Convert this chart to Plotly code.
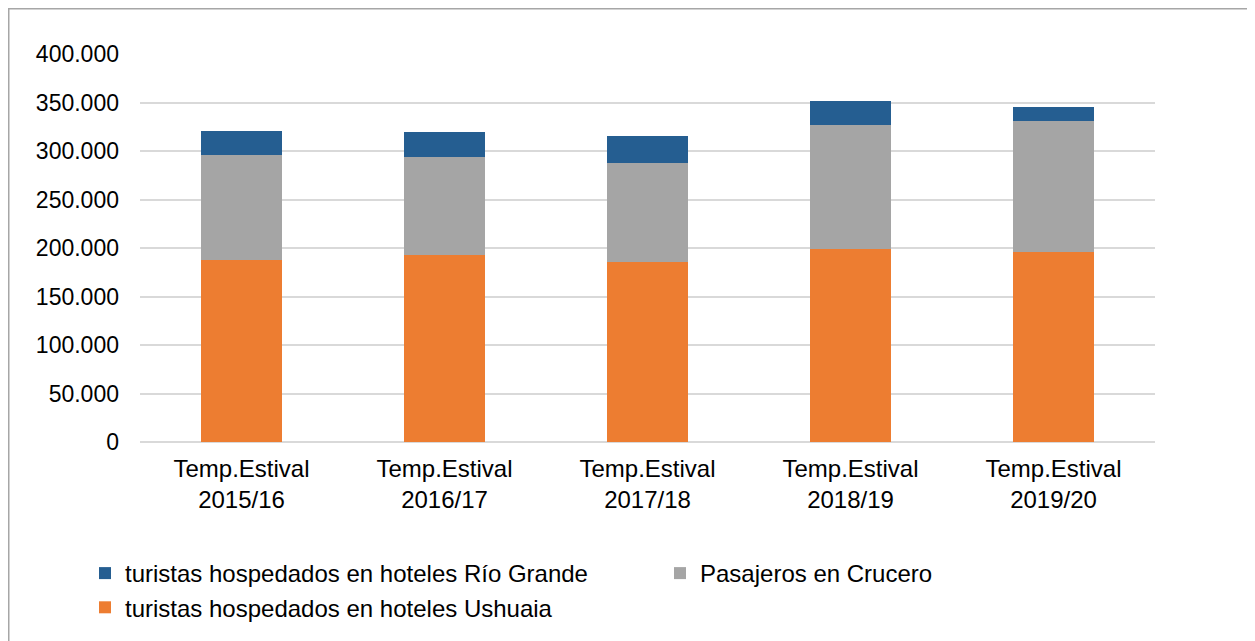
import plotly.graph_objects as go

# Data
temporadas = ['Temp.Estival<br>2015/16', 'Temp.Estival<br>2016/17', 'Temp.Estival<br>2017/18',
              'Temp.Estival<br>2018/19', 'Temp.Estival<br>2019/20']
hoteles_ushuaia = [187600, 192500, 185900, 199300, 196200]
pasajeros_crucero = [108000, 101300, 101700, 127800, 134800]
hoteles_rio_grande = [24700, 25800, 27500, 24400, 14000]

y_ticks = [0, 50000, 100000, 150000, 200000, 250000, 300000, 350000, 400000]
y_tick_labels = ['0', '50.000', '100.000', '150.000', '200.000', '250.000', '300.000', '350.000', '400.000']

COLORS = {
    'ushuaia': '#ED7D31',
    'crucero': '#A5A5A5',
    'rio_grande': '#255E91',
    'grid': '#D9D9D9',
    'text': '#000000',
}
FONT = 'Liberation Sans, Arial, sans-serif'

W, H = 1255, 641
# page body has an 8px margin, so figure coords = screen coords - 8
ML, MT = 132, 46
PW, PH = 1015, 388

fig = go.Figure()

fig.add_trace(go.Bar(
    x=temporadas,
    y=hoteles_ushuaia,
    name='turistas hospedados en hoteles Ushuaia',
    marker=dict(color=COLORS['ushuaia'], line=dict(width=0)),
    legend='legend',
))
fig.add_trace(go.Bar(
    x=temporadas,
    y=pasajeros_crucero,
    name='Pasajeros en Crucero',
    marker=dict(color=COLORS['crucero'], line=dict(width=0)),
    legend='legend2',
))
fig.add_trace(go.Bar(
    x=temporadas,
    y=hoteles_rio_grande,
    name='turistas hospedados en hoteles Río Grande',
    marker=dict(color=COLORS['rio_grande'], line=dict(width=0)),
    legend='legend',
))

legend_common = dict(
    orientation='v',
    traceorder='reversed',
    xref='container',
    yref='container',
    xanchor='left',
    yanchor='top',
    y=1 - 543 / H,
    bgcolor='rgba(0,0,0,0)',
    font=dict(size=24),
    itemwidth=30,
    tracegroupgap=0,
)

fig.update_layout(
    width=W,
    height=H,
    barmode='stack',
    bargap=0.6,
    paper_bgcolor='white',
    plot_bgcolor='white',
    margin=dict(l=ML, r=W - ML - PW, t=MT, b=H - MT - PH, autoexpand=False),
    font=dict(family=FONT, size=23, color=COLORS['text']),
    showlegend=True,
    legend=dict(x=77 / W, **legend_common),
    legend2=dict(x=652 / W, **legend_common),
    xaxis=dict(
        showgrid=False,
        showline=False,
        ticks='',
        ticklabelstandoff=10,
        tickfont=dict(size=24),
    ),
    yaxis=dict(
        range=[0, 400000],
        tickvals=y_ticks,
        ticktext=y_tick_labels,
        showgrid=True,
        gridcolor=COLORS['grid'],
        gridwidth=1.5,
        zeroline=True,
        zerolinecolor=COLORS['grid'],
        zerolinewidth=1.5,
        showline=False,
        ticks='',
        ticklabelstandoff=20,
        tickfont=dict(size=23),
    ),
    shapes=[dict(
        type='rect', xref='paper', yref='paper',
        x0=(0.75 - ML) / PW, x1=(W + 10 - ML) / PW,
        y0=(MT + PH - H - 10) / PH, y1=(MT + PH - 0.75) / PH,
        line=dict(color='#A6A6A6', width=1.5),
        fillcolor='rgba(0,0,0,0)',
        layer='below',
    )],
)

fig.write_html("out.html")
